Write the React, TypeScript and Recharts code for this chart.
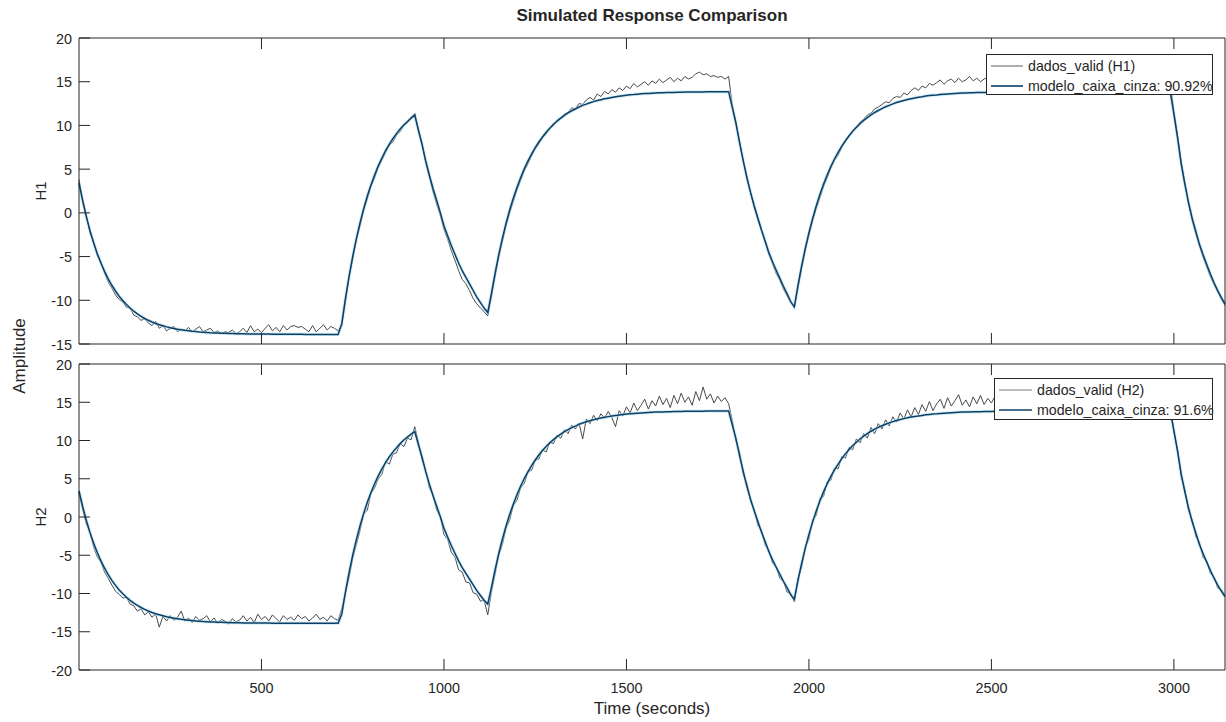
import { LineChart, Line, XAxis, YAxis } from 'recharts';

const FONT = '"Liberation Sans", Arial, Helvetica, sans-serif';
const INK = '#262626';
const DATA_COLOR = '#4a4a4a';
const MODEL_COLOR = '#0b3f66';
const HALO_COLOR = '#b6def3';
const TICK_LEN = 11;

const WIDTH = 1226;
const HEIGHT = 722;
const PLOT_LEFT = 79;

// sample instants, 0..3140 s every 10 s
const SAMPLE_STEP = 10;
const tempo = Array.from({ length: 315 }, (_, i) => i * SAMPLE_STEP);

// simulated output of the grey-box model (same response for both tanks)
const modelo = [
  3.4, 1.37, -0.43, -2.01, -3.41, -4.64, -5.73, -6.69, -7.54, -8.28,
  -8.94, -9.53, -10.04, -10.49, -10.89, -11.25, -11.56, -11.83, -12.08, -12.29,
  -12.48, -12.65, -12.79, -12.92, -13.04, -13.14, -13.23, -13.31, -13.38, -13.44,
  -13.49, -13.54, -13.58, -13.62, -13.65, -13.68, -13.71, -13.73, -13.75, -13.77,
  -13.78, -13.8, -13.81, -13.82, -13.83, -13.84, -13.85, -13.85, -13.86, -13.86,
  -13.87, -13.87, -13.87, -13.88, -13.88, -13.88, -13.88, -13.89, -13.89, -13.89,
  -13.89, -13.89, -13.9, -13.9, -13.9, -13.9, -13.9, -13.9, -13.9, -13.9,
  -13.9, -13.9, -12.67, -9.81, -7.26, -4.98, -2.95, -1.14, 0.47, 1.92,
  3.2, 4.34, 5.37, 6.28, 7.12, 7.84, 8.48, 9.06, 9.59, 10.06,
  10.45, 10.84, 11.18, 9.44, 7.81, 5.93, 4.3, 2.79, 1.41, 0.03,
  -1.48, -2.61, -3.73, -4.74, -5.74, -6.62, -7.37, -8.13, -8.88, -9.63,
  -10.26, -10.89, -11.39, -9.23, -6.92, -4.8, -2.91, -1.22, 0.32, 1.68,
  2.91, 4.02, 5.03, 5.91, 6.72, 7.45, 8.1, 8.68, 9.21, 9.69,
  10.12, 10.5, 10.83, 11.15, 11.43, 11.68, 11.88, 12.11, 12.29, 12.44,
  12.59, 12.72, 12.84, 12.94, 13.04, 13.12, 13.2, 13.27, 13.34, 13.4,
  13.45, 13.5, 13.53, 13.57, 13.61, 13.64, 13.66, 13.69, 13.71, 13.73,
  13.74, 13.76, 13.77, 13.78, 13.79, 13.8, 13.81, 13.81, 13.82, 13.82,
  13.83, 13.83, 13.84, 13.84, 13.85, 13.85, 13.86, 13.86, 13.86, 12.06,
  10.25, 8.03, 5.95, 4.01, 2.34, 0.81, -0.58, -1.96, -3.21, -4.52,
  -5.57, -6.54, -7.46, -8.4, -9.24, -10.15, -10.75, -8.29, -6.07, -4.07,
  -2.27, -0.67, 0.79, 2.09, 3.28, 4.34, 5.3, 6.16, 6.92, 7.63,
  8.25, 8.82, 9.34, 9.78, 10.2, 10.57, 10.89, 11.21, 11.48, 11.71,
  11.93, 12.13, 12.3, 12.47, 12.62, 12.74, 12.86, 12.96, 13.06, 13.14,
  13.21, 13.28, 13.36, 13.41, 13.46, 13.49, 13.54, 13.57, 13.6, 13.63,
  13.66, 13.69, 13.71, 13.72, 13.74, 13.75, 13.76, 13.77, 13.78, 13.79,
  13.8, 13.81, 13.81, 13.82, 13.82, 13.83, 13.83, 13.83, 13.84, 13.84,
  13.84, 13.85, 13.85, 13.85, 13.85, 13.85, 13.85, 13.85, 13.85, 13.85,
  13.85, 13.86, 13.86, 13.86, 13.86, 13.86, 13.86, 13.86, 13.86, 13.86,
  13.86, 13.86, 13.86, 13.86, 13.86, 13.86, 13.86, 13.86, 13.86, 13.86,
  13.86, 13.86, 13.86, 13.86, 13.86, 13.86, 13.86, 13.86, 13.86, 13.86,
  11.3, 8.6, 5.6, 3.3, 1.2, -0.6, -2.1, -3.6, -4.8, -5.9,
  -7.0, -8.0, -8.9, -9.7, -10.4,
];

// measured validation data, tank 1
const dadosH1 = [
  3.8, 1.6, -0.2, -2.3, -3.3, -4.9, -5.6, -6.9, -7.9, -8.6,
  -9.4, -9.9, -10.2, -10.8, -10.9, -11.7, -11.9, -12.3, -12.1, -12.6,
  -12.9, -12.4, -13.2, -12.9, -13.5, -13.2, -13.0, -13.6, -13.3, -13.5,
  -13.1, -13.6, -13.3, -13.0, -13.6, -13.4, -13.2, -13.7, -13.5, -13.8,
  -13.6, -13.7, -13.4, -13.8, -13.6, -13.2, -13.7, -12.9, -13.6, -13.3,
  -13.7, -13.2, -12.8, -13.5, -13.1, -13.6, -12.9, -13.4, -13.0, -12.9,
  -13.1, -13.0, -13.3, -13.6, -12.9, -13.6, -13.2, -12.8, -13.4, -13.0,
  -13.2, -13.5, -12.9, -10.2, -7.4, -5.3, -3.1, -1.5, 0.3, 1.6,
  3.0, 4.0, 5.2, 6.0, 6.9, 7.7, 8.1, 8.9, 9.3, 10.0,
  10.3, 10.9, 11.4, 9.6, 8.0, 5.8, 4.1, 2.4, 1.0, -0.3,
  -1.9, -3.0, -4.3, -5.4, -6.6, -7.6, -8.1, -8.9, -9.8, -10.4,
  -10.9, -11.3, -11.8, -9.6, -7.3, -5.1, -3.3, -1.5, 0.0, 1.3,
  2.6, 3.7, 4.8, 5.6, 6.5, 7.3, 7.9, 8.6, 9.0, 9.7,
  10.0, 10.6, 10.9, 11.3, 11.5, 12.0, 11.9, 12.5, 12.4, 12.9,
  13.2, 12.9, 13.6, 13.3, 13.9, 13.6, 14.1, 13.8, 14.3, 14.0,
  14.5, 14.2, 14.8, 14.4, 14.7, 15.0, 14.6, 15.1, 14.8, 15.3,
  14.9, 15.2, 15.5, 15.0, 15.4, 15.1, 15.6, 15.3, 15.5, 15.9,
  16.1, 15.8, 15.9, 15.6, 15.7, 15.5, 15.6, 15.3, 15.6, 12.3,
  10.4, 8.1, 6.0, 4.2, 2.3, 0.6, -0.8, -2.0, -3.4, -4.7,
  -5.8, -6.9, -7.7, -8.7, -9.5, -10.2, -10.8, -8.6, -6.4, -4.3,
  -2.6, -0.9, 0.5, 1.7, 3.0, 4.0, 5.1, 6.0, 6.6, 7.5,
  8.2, 8.8, 9.4, 9.8, 10.4, 10.7, 11.2, 11.4, 11.9, 12.1,
  12.4, 12.7, 12.6, 13.1, 13.3, 13.2, 13.7, 13.5, 14.0, 14.3,
  14.0, 14.5, 14.3, 14.8, 14.6, 14.9, 15.2, 14.7, 15.1, 15.3,
  14.9, 15.4, 15.0, 15.2, 15.6, 15.1, 15.4, 15.0, 15.3, 15.5,
  15.1, 15.4, 15.0, 15.3, 14.9, 15.2, 15.5, 15.1, 15.3, 14.9,
  15.2, 15.0, 15.4, 15.1, 15.3, 14.9, 15.2, 15.5, 15.1, 15.3,
  15.0, 15.4, 15.2, 15.5, 15.1, 15.3, 15.0, 15.2, 15.4, 15.1,
  15.3, 14.9, 15.2, 15.4, 15.0, 15.3, 15.1, 15.4, 15.2, 15.0,
  15.3, 15.1, 15.4, 15.0, 15.2, 15.3, 15.0, 15.2, 15.1, 15.0,
  11.6, 8.9, 5.9, 3.4, 1.0, -0.9, -2.4, -3.8, -5.1, -6.2,
  -7.3, -8.2, -9.0, -9.9, -10.6,
];

// measured validation data, tank 2
const dadosH2 = [
  3.2, 1.0, -0.9, -2.0, -3.9, -5.2, -5.9, -7.2, -8.0, -8.9,
  -9.7, -10.1, -10.6, -10.5, -11.4, -11.6, -12.3, -12.0, -12.8, -12.4,
  -13.1, -12.7, -14.4, -13.0, -13.6, -12.9, -13.5, -13.1, -12.3, -13.6,
  -13.2, -13.8, -13.0, -13.5, -13.3, -12.9, -13.7, -13.2, -13.9, -13.4,
  -13.6, -14.0, -13.3, -13.7, -13.5, -12.9, -13.6, -13.1, -13.8, -12.7,
  -13.4, -13.0, -13.6, -12.8, -13.3, -13.7, -12.9, -13.4, -13.1, -13.5,
  -12.8, -13.3, -13.0, -13.6, -13.2, -12.7, -13.4, -13.1, -13.6, -12.9,
  -13.3, -13.5, -12.0, -10.0, -7.9, -5.4, -3.6, -1.8, 0.4, 0.9,
  3.1, 3.8, 5.0, 5.6, 7.3, 6.9, 8.2, 8.4, 9.6, 9.2,
  10.3, 10.1, 11.8, 9.8, 7.5, 6.1, 3.8, 2.9, 0.9, 0.1,
  -2.3, -2.9, -4.6, -5.2, -6.9, -7.2, -8.5, -8.6, -9.9, -10.1,
  -11.0, -10.9, -12.8, -9.8, -7.5, -5.0, -3.6, -1.5, -0.4, 1.5,
  2.2, 3.8, 4.4, 5.9, 6.1, 7.4, 7.6, 8.8, 8.5, 9.8,
  9.6, 10.7, 10.3, 11.4, 10.9, 12.0, 11.5, 12.3, 10.2, 12.8,
  12.2, 13.3, 12.6, 13.5, 12.9, 13.8, 13.0, 11.8, 13.9, 13.2,
  14.4, 13.6, 14.9, 13.9, 14.6, 15.4, 14.1, 15.2, 14.5, 15.8,
  14.7, 15.5, 14.3, 15.9, 14.8, 16.2, 15.0, 15.7, 14.6, 16.4,
  15.2, 17.0, 15.4, 16.1, 14.9, 15.8, 15.1, 15.6, 14.8, 12.6,
  9.9, 8.5, 5.6, 4.4, 2.0, 1.0, -1.1, -1.7, -3.7, -4.3,
  -6.0, -6.5, -8.0, -8.4, -9.8, -10.0, -11.1, -8.0, -6.6, -3.9,
  -2.9, -0.4, 0.2, 2.4, 2.7, 4.6, 4.8, 6.4, 6.3, 7.9,
  7.7, 9.1, 8.8, 10.2, 9.7, 10.9, 10.3, 11.7, 10.9, 12.2,
  11.5, 12.7, 11.9, 13.1, 12.4, 13.6, 12.8, 14.0, 13.1, 14.3,
  13.4, 14.7, 13.8, 15.1, 13.9, 14.8, 15.4, 14.2, 15.6, 14.5,
  15.2, 16.0, 14.6, 15.3, 14.4, 15.7, 14.8, 15.9, 14.7, 15.5,
  14.9, 15.8, 14.6, 15.3, 16.1, 14.8, 15.5, 14.5, 15.7, 15.0,
  15.4, 14.7, 16.0, 15.1, 14.8, 15.6, 14.9, 15.3, 15.9, 14.6,
  15.2, 15.7, 14.8, 15.4, 16.2, 14.9, 15.1, 15.6, 14.7, 15.5,
  15.0, 15.8, 14.6, 15.3, 15.9, 14.8, 15.4, 15.1, 15.7, 14.9,
  15.3, 15.6, 14.7, 15.2, 15.8, 14.9, 15.4, 15.0, 15.5, 14.9,
  11.0, 8.9, 5.2, 3.6, 0.8, -0.3, -2.6, -3.3, -5.3, -5.8,
  -7.4, -7.8, -9.3, -9.5, -10.2,
];

const xDomain = [0, 3140];
const xTicks = [500, 1000, 1500, 2000, 2500, 3000];
const yTicksH1 = [-15, -10, -5, 0, 5, 10, 15, 20];
const yTicksH2 = [-20, -15, -10, -5, 0, 5, 10, 15, 20];

type TickProps = { x?: number; y?: number; payload?: { value: number }; showLabel?: boolean };

const BottomTick = ({ x = 0, y = 0, payload, showLabel }: TickProps) => (
  <g>
    <line x1={x} x2={x} y1={y} y2={y - TICK_LEN} stroke={INK} />
    {showLabel && (
      <text x={x} y={y + 23} textAnchor="middle" fontSize={14.4} fontFamily={FONT} fill={INK}>
        {payload?.value}
      </text>
    )}
  </g>
);

const TopTick = ({ x = 0, y = 0 }: TickProps) => (
  <line x1={x} x2={x} y1={y} y2={y + TICK_LEN} stroke={INK} />
);

const LeftTick = ({ x = 0, y = 0, payload }: TickProps) => (
  <g>
    <line x1={x} x2={x + TICK_LEN} y1={y} y2={y} stroke={INK} />
    <text x={x - 7} y={y + 5.5} textAnchor="end" fontSize={14.4} fontFamily={FONT} fill={INK}>
      {payload?.value}
    </text>
  </g>
);

const RightTick = ({ x = 0, y = 0 }: TickProps) => (
  <line x1={x} x2={x - TICK_LEN} y1={y} y2={y} stroke={INK} />
);

interface PanelProps {
  dados: number[];
  yDomain: number[];
  yTicks: number[];
  top: number;
  height: number;
  bottom: number;
  showXLabels: boolean;
}

// one subplot: box axes with inward ticks on all four sides
function Panel({ dados, yDomain, yTicks, top, height, bottom, showXLabels }: PanelProps) {
  const rows = tempo.map((t, i) => ({ t, dados: dados[i], modelo: modelo[i] }));
  return (
    <div style={{ position: 'absolute', left: 0, top }}>
      <LineChart
        width={WIDTH}
        height={height}
        data={rows}
        margin={{ top: 37, right: 0, bottom, left: 0 }}
      >
        <XAxis
          dataKey="t"
          type="number"
          domain={xDomain}
          ticks={xTicks}
          interval={0}
          height={1}
          tickSize={0}
          tickMargin={0}
          tickLine={false}
          axisLine={{ stroke: INK }}
          tick={<BottomTick showLabel={showXLabels} />}
        />
        <XAxis
          xAxisId="top"
          orientation="top"
          dataKey="t"
          type="number"
          domain={xDomain}
          ticks={xTicks}
          interval={0}
          height={1}
          tickSize={0}
          tickMargin={0}
          tickLine={false}
          axisLine={{ stroke: INK }}
          tick={<TopTick />}
        />
        <YAxis
          type="number"
          domain={yDomain}
          ticks={yTicks}
          interval={0}
          width={PLOT_LEFT}
          tickSize={0}
          tickMargin={0}
          tickLine={false}
          axisLine={{ stroke: INK }}
          tick={<LeftTick />}
        />
        <YAxis
          yAxisId="right"
          orientation="right"
          type="number"
          domain={yDomain}
          ticks={yTicks}
          interval={0}
          width={1}
          tickSize={0}
          tickMargin={0}
          tickLine={false}
          axisLine={{ stroke: INK }}
          tick={<RightTick />}
        />
        <Line
          dataKey="dados"
          type="linear"
          stroke={DATA_COLOR}
          strokeWidth={1}
          dot={false}
          isAnimationActive={false}
        />
        <Line
          dataKey="modelo"
          type="linear"
          stroke={HALO_COLOR}
          strokeWidth={3.4}
          strokeOpacity={0.55}
          dot={false}
          isAnimationActive={false}
        />
        <Line
          dataKey="modelo"
          type="linear"
          stroke={MODEL_COLOR}
          strokeWidth={1.5}
          dot={false}
          isAnimationActive={false}
        />
      </LineChart>
    </div>
  );
}

function LegendBox({ x, y, w, h, lineLen, dadosName, modeloName }: {
  x: number; y: number; w: number; h: number; lineLen: number; dadosName: string; modeloName: string;
}) {
  const row1 = y + 12;
  const row2 = y + 32;
  return (
    <g fontFamily={FONT} fontSize={14.2} fill={INK}>
      <rect x={x + 0.5} y={y + 0.5} width={w} height={h} fill="#fff" stroke={INK} />
      <line x1={x + 5} x2={x + 5 + lineLen} y1={row1} y2={row1} stroke="#7a7a7a" strokeWidth={1.2} />
      <text x={x + 10 + lineLen} y={row1 + 5}>{dadosName}</text>
      <line x1={x + 5} x2={x + 5 + lineLen} y1={row2} y2={row2} stroke={MODEL_COLOR} strokeWidth={1.6} />
      <text x={x + 10 + lineLen} y={row2 + 5}>{modeloName}</text>
    </g>
  );
}

export default function App() {
  return (
    <div style={{ position: 'fixed', left: 0, top: 0, width: WIDTH, height: HEIGHT, background: '#fff' }}>
      <Panel dados={dadosH1} yDomain={[-15, 20]} yTicks={yTicksH1} top={0} height={365} bottom={20} showXLabels={false} />
      <Panel dados={dadosH2} yDomain={[-20, 20]} yTicks={yTicksH2} top={326} height={396} bottom={51} showXLabels />
      <svg
        width={WIDTH}
        height={HEIGHT}
        style={{ position: 'absolute', left: 0, top: 0, pointerEvents: 'none' }}
      >
        <text x={652} y={21} textAnchor="middle" fontFamily={FONT} fontSize={17} fontWeight="bold" fill={INK}>
          Simulated Response Comparison
        </text>
        <text x={652} y={714} textAnchor="middle" fontFamily={FONT} fontSize={17} fill={INK}>
          Time (seconds)
        </text>
        <text transform="translate(25,356) rotate(-90)" textAnchor="middle" fontFamily={FONT} fontSize={17} fill={INK}>
          Amplitude
        </text>
        <text transform="translate(46,191) rotate(-90)" textAnchor="middle" fontFamily={FONT} fontSize={15} fill={INK}>
          H1
        </text>
        <text transform="translate(46,517) rotate(-90)" textAnchor="middle" fontFamily={FONT} fontSize={15} fill={INK}>
          H2
        </text>
        <LegendBox x={986} y={54} w={226} h={40} lineLen={32} dadosName="dados_valid (H1)" modeloName="modelo_caixa_cinza: 90.92%" />
        <LegendBox x={994} y={378} w={218} h={41} lineLen={33} dadosName="dados_valid (H2)" modeloName="modelo_caixa_cinza: 91.6%" />
      </svg>
    </div>
  );
}
